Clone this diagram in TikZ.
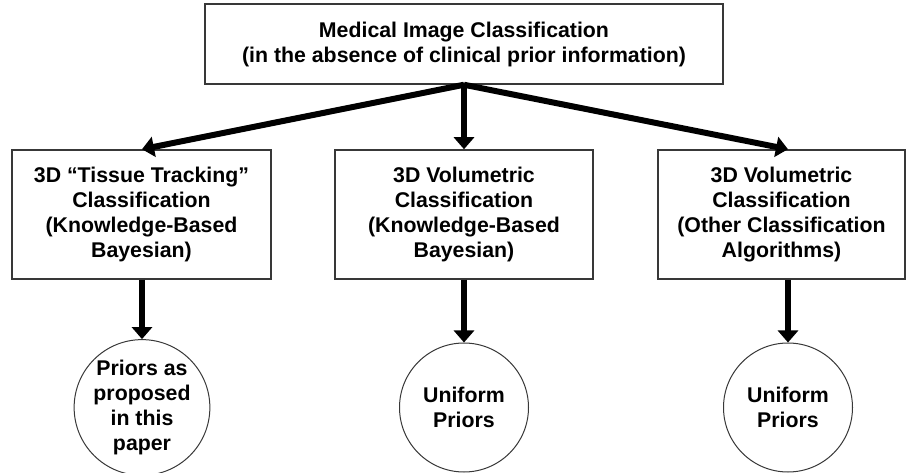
\documentclass[tikz,border=0pt]{standalone}
\usepackage{fontspec}
\setmainfont{Liberation Sans}
\usetikzlibrary{arrows.meta}
\begin{document}
\begin{tikzpicture}[x=1pt,y=-1pt,
  box/.style={draw=black!78,line width=1.5pt,fill=white,align=center,inner sep=0pt,
    font=\fontsize{21.3}{25}\selectfont\bfseries},
  circ/.style={draw=black!78,line width=1pt,circle,minimum size=129pt,inner sep=0pt,align=center,
    font=\fontsize{21.3}{25}\selectfont\bfseries},
  bigarrow/.style={line width=6pt,-{Triangle[width=20pt,length=12pt]}}]
\path[use as bounding box] (0,0) rectangle (906,473);
\node[box,minimum width=518pt,minimum height=80pt] (top) at (464,44)
  {Medical Image Classification\\(in the absence of clinical prior information)};
\node[box,minimum width=259pt,minimum height=129pt] (b1) at (141.5,214.5)
  {3D “Tissue Tracking”\\Classification\\(Knowledge-Based\\Bayesian)};
\node[box,minimum width=258pt,minimum height=129pt] (b2) at (464,214.5)
  {3D Volumetric\\Classification\\(Knowledge-Based\\Bayesian)};
\node[box,minimum width=247pt,minimum height=129pt] (b3) at (781.5,214.5)
  {3D Volumetric\\Classification\\(Other Classification\\Algorithms)};
\node[circ] (c1) at (142,407.5) {Priors as\\proposed\\in this\\paper};
\node[circ] (c2) at (464,407.5) {Uniform\\Priors};
\node[circ] (c3) at (788,407.5) {Uniform\\Priors};
\draw[bigarrow] (top.south) -- (b1.north -| c1.north);
\draw[bigarrow] (top.south) -- (b2.north);
\draw[bigarrow] (top.south) -- (b3.north -| c3.north);
\draw[bigarrow] (b1.south -| c1.north) -- (c1.north);
\draw[bigarrow] (b2.south) -- (c2.north);
\draw[bigarrow] (b3.south -| c3.north) -- (c3.north);
\end{tikzpicture}
\end{document}
